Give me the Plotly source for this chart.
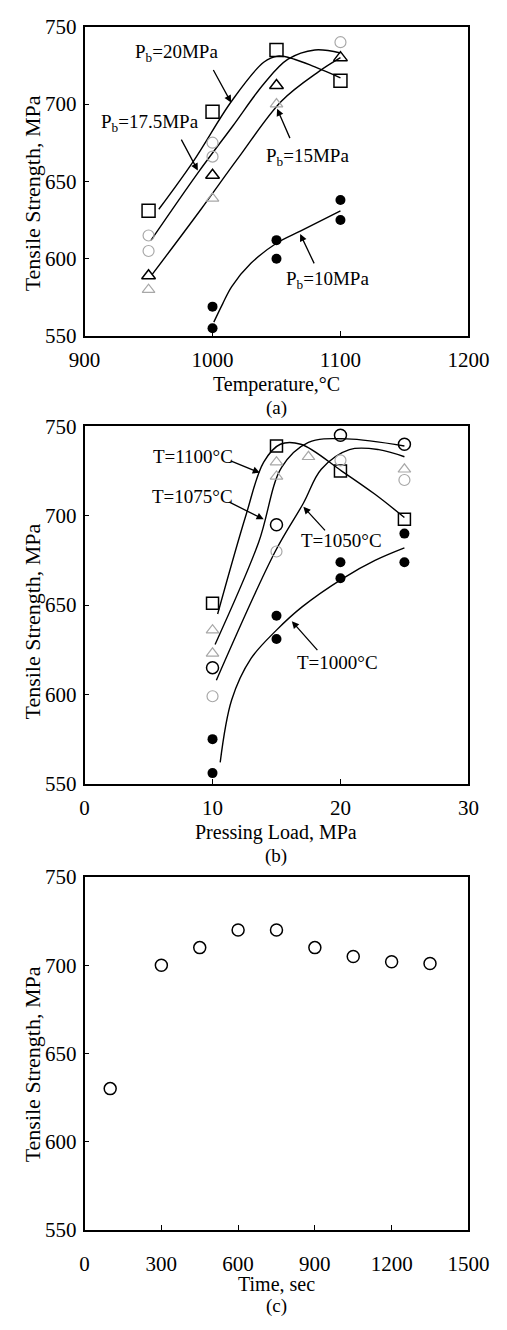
import plotly.graph_objects as go

FONT = "Liberation Serif, Times New Roman, serif"
FAINT = "#a8a8a8"

# ---------------- (a) tensile strength vs temperature ----------------
temp_20 = [950, 1000, 1050, 1100]
ts_20 = [631, 695, 735, 715]

temp_175 = [950, 950, 1000, 1000, 1100]
ts_175 = [605, 615, 666, 675, 740]

temp_15 = [950, 1000, 1050, 1100]
ts_15 = [589, 654, 712, 730]
temp_15b = [950, 1000, 1050]
ts_15b = [580, 639, 700]

temp_10 = [1000, 1000, 1050, 1050, 1100, 1100]
ts_10 = [569, 555, 612, 600, 638, 625]

# fitted curves drawn through the data
fit20_t = [958, 985, 1015, 1040, 1051, 1064, 1080, 1100]
fit20_v = [632, 663, 702, 727, 731, 729, 724, 717]
fit175_t = [952, 989, 1016, 1040, 1059, 1080, 1100]
fit175_v = [612, 656, 686, 713, 729, 735, 733]
fit15_t = [953, 991, 1020, 1054, 1083, 1100]
fit15_v = [590, 632, 665, 702, 721, 730]
fit10_t = [1001, 1008, 1015, 1030, 1050, 1069, 1100]
fit10_v = [559, 571, 582, 597, 610, 618, 631]

# ---------------- (b) tensile strength vs pressing load ----------------
load_1100 = [10, 15, 20, 25]
ts_1100 = [651, 739, 725, 698]

load_open = [10, 15, 20, 25]
ts_open = [615, 695, 745, 740]

load_dot = [10, 15, 20, 25]
ts_dot = [599, 680, 731, 720]

load_tri = [10, 10, 15, 15, 17.5, 25]
ts_tri = [636, 623, 730, 722, 733, 726]

load_1000 = [10, 10, 15, 15, 20, 20, 25, 25]
ts_1000 = [575, 556, 644, 631, 674, 665, 690, 674]

fitT1100_p = [10.4, 12.6, 14.0, 15.3, 16.9, 20.1, 22.7, 25]
fitT1100_v = [645, 700, 730, 740, 740, 725, 712, 699]
fitT1075_p = [10.2, 13.6, 15.4, 17.5, 20.5, 25]
fitT1075_v = [628, 685, 727, 741, 743, 739]
fitT1050_p = [10.3, 14.9, 17.1, 18.5, 20.7, 23, 25]
fitT1050_v = [608, 680, 707, 726, 737, 737, 733]
fitT1000_p = [10.6, 11.5, 13, 15, 17, 20.2, 22.7, 25]
fitT1000_v = [562, 597, 620, 636, 649, 665, 675, 682]

# ---------------- (c) tensile strength vs time ----------------
time_s = [100, 300, 450, 600, 750, 900, 1050, 1200, 1350]
ts_time = [630, 700, 710, 720, 720, 710, 705, 702, 701]

fig = go.Figure()


def pts(x, y, xa, ya, symbol, size, color="black", lw=1.5):
    fig.add_trace(go.Scatter(
        x=x, y=y, xaxis=xa, yaxis=ya, mode="markers",
        marker=dict(symbol=symbol, size=size, color=color,
                    line=dict(color=color, width=lw)),
        showlegend=False, hoverinfo="skip"))


def curve(x, y, xa, ya):
    fig.add_trace(go.Scatter(
        x=x, y=y, xaxis=xa, yaxis=ya, mode="lines",
        line=dict(color="black", width=1.4, shape="spline", smoothing=1.0),
        showlegend=False, hoverinfo="skip"))


# (a)
for fx, fy in [(fit20_t, fit20_v), (fit175_t, fit175_v), (fit15_t, fit15_v), (fit10_t, fit10_v)]:
    curve(fx, fy, "x", "y")
pts(temp_20, ts_20, "x", "y", "square-open", 13)
pts(temp_175, ts_175, "x", "y", "circle-open", 11, color=FAINT, lw=1.2)
pts(temp_15b, ts_15b, "x", "y", "triangle-up-open", 11, color=FAINT, lw=1.2)
pts(temp_15, ts_15, "x", "y", "triangle-up-open", 12)
pts(temp_10, ts_10, "x", "y", "circle", 10, lw=0)

# (b)
for fx, fy in [(fitT1100_p, fitT1100_v), (fitT1075_p, fitT1075_v), (fitT1050_p, fitT1050_v), (fitT1000_p, fitT1000_v)]:
    curve(fx, fy, "x2", "y2")
pts(load_1100, ts_1100, "x2", "y2", "square-open", 12)
pts(load_open, ts_open, "x2", "y2", "circle-open", 12)
pts(load_dot, ts_dot, "x2", "y2", "circle-open", 11, color=FAINT, lw=1.2)
pts(load_tri, ts_tri, "x2", "y2", "triangle-up-open", 11, color=FAINT, lw=1.2)
pts(load_1000, ts_1000, "x2", "y2", "circle", 10, lw=0)

# (c)
pts(time_s, ts_time, "x3", "y3", "circle-open", 12)

X0, X1 = 74 / 507, 488 / 507
H = 1330


def dom(top, bottom):
    return [1 - bottom / H, 1 - top / H]


axis_common = dict(
    showline=True, linecolor="black", linewidth=1.6, mirror=True,
    ticks="inside", ticklen=5, tickwidth=1.2, tickcolor="black",
    showgrid=False, zeroline=False,
    tickfont=dict(family=FONT, size=21, color="black"),
)

fig.update_layout(
    width=507, height=H,
    margin=dict(l=0, r=0, t=0, b=0),
    paper_bgcolor="white", plot_bgcolor="white",
    font=dict(family=FONT, color="black"),
    xaxis=dict(domain=[X0, X1], range=[900, 1200], dtick=100, anchor="y",
               ticklabelstandoff=4, **axis_common),
    yaxis=dict(domain=dom(15, 330), range=[550, 750], dtick=50, anchor="x",
               ticklabelstandoff=2, **axis_common),
    xaxis2=dict(domain=[X0, X1], range=[0, 30], dtick=10, anchor="y2",
                ticklabelstandoff=4, **axis_common),
    yaxis2=dict(domain=dom(422, 786), range=[550, 750], dtick=50, anchor="x2",
                ticklabelstandoff=2, **axis_common),
    xaxis3=dict(domain=[X0, X1], range=[0, 1500], dtick=300, anchor="y3",
                ticklabelstandoff=14, **axis_common),
    yaxis3=dict(domain=dom(881, 1240), range=[550, 750], dtick=50, anchor="x3",
                ticklabelstandoff=2, **axis_common),
)

ann = []


def label(text, x, y, xa, ya, size=19):
    ann.append(dict(text=text, x=x, y=y, xref=xa, yref=ya, showarrow=False,
                    xanchor="center", yanchor="middle",
                    font=dict(family=FONT, size=size, color="black")))


def arrow(x_tail, y_tail, x_head, y_head, xa, ya):
    ann.append(dict(text="", x=x_head, y=y_head, ax=x_tail, ay=y_tail,
                    xref=xa, yref=ya, axref=xa, ayref=ya, showarrow=True,
                    arrowhead=2, arrowsize=1.1, arrowwidth=1.3, arrowcolor="black",
                    standoff=0, startstandoff=0))


# (a) labels
label("P<sub>b</sub>=20MPa", 972, 733, "x", "y")
arrow(1000, 723, 1014.5, 701, "x", "y")
label("P<sub>b</sub>=17.5MPa", 951, 688, "x", "y")
arrow(975, 678, 988.5, 657, "x", "y")
label("P<sub>b</sub>=15MPa", 1074, 666, "x", "y")
arrow(1061, 677, 1050.5, 697, "x", "y")
label("P<sub>b</sub>=10MPa", 1090, 586, "x", "y")
arrow(1080, 596, 1068.5, 616, "x", "y")

# (b) labels
label("T=1100°C", 8.5, 733, "x2", "y2")
arrow(11.3, 731, 13.7, 724, "x2", "y2")
label("T=1075°C", 8.4, 711, "x2", "y2")
arrow(11.2, 708, 14.0, 698, "x2", "y2")
label("T=1050°C", 20.1, 686, "x2", "y2")
arrow(18.9, 691, 17.1, 705, "x2", "y2")
label("T=1000°C", 19.8, 618, "x2", "y2")
arrow(18.3, 624, 16.2, 641, "x2", "y2")

# y-axis titles
for yc in [185, 621, 1072]:
    ann.append(dict(text="Tensile Strength, MPa", x=18 / 507, y=1 - yc / H,
                    xref="paper", yref="paper", showarrow=False, textangle=-90,
                    xanchor="center", yanchor="middle",
                    font=dict(family=FONT, size=22, color="black")))
# x-axis titles and panel letters
for txt, yc, size in [("Temperature,°C", 379, 20), ("(a)", 403, 19),
                      ("Pressing Load, MPa", 836, 20), ("(b)", 860, 19),
                      ("Time, sec", 1295, 20), ("(c)", 1318, 19)]:
    ann.append(dict(text=txt, x=281 / 507, y=1 - yc / H, xref="paper", yref="paper",
                    showarrow=False, xanchor="center", yanchor="middle",
                    font=dict(family=FONT, size=size, color="black")))

fig.update_layout(annotations=ann)
fig.write_html("out.html")
